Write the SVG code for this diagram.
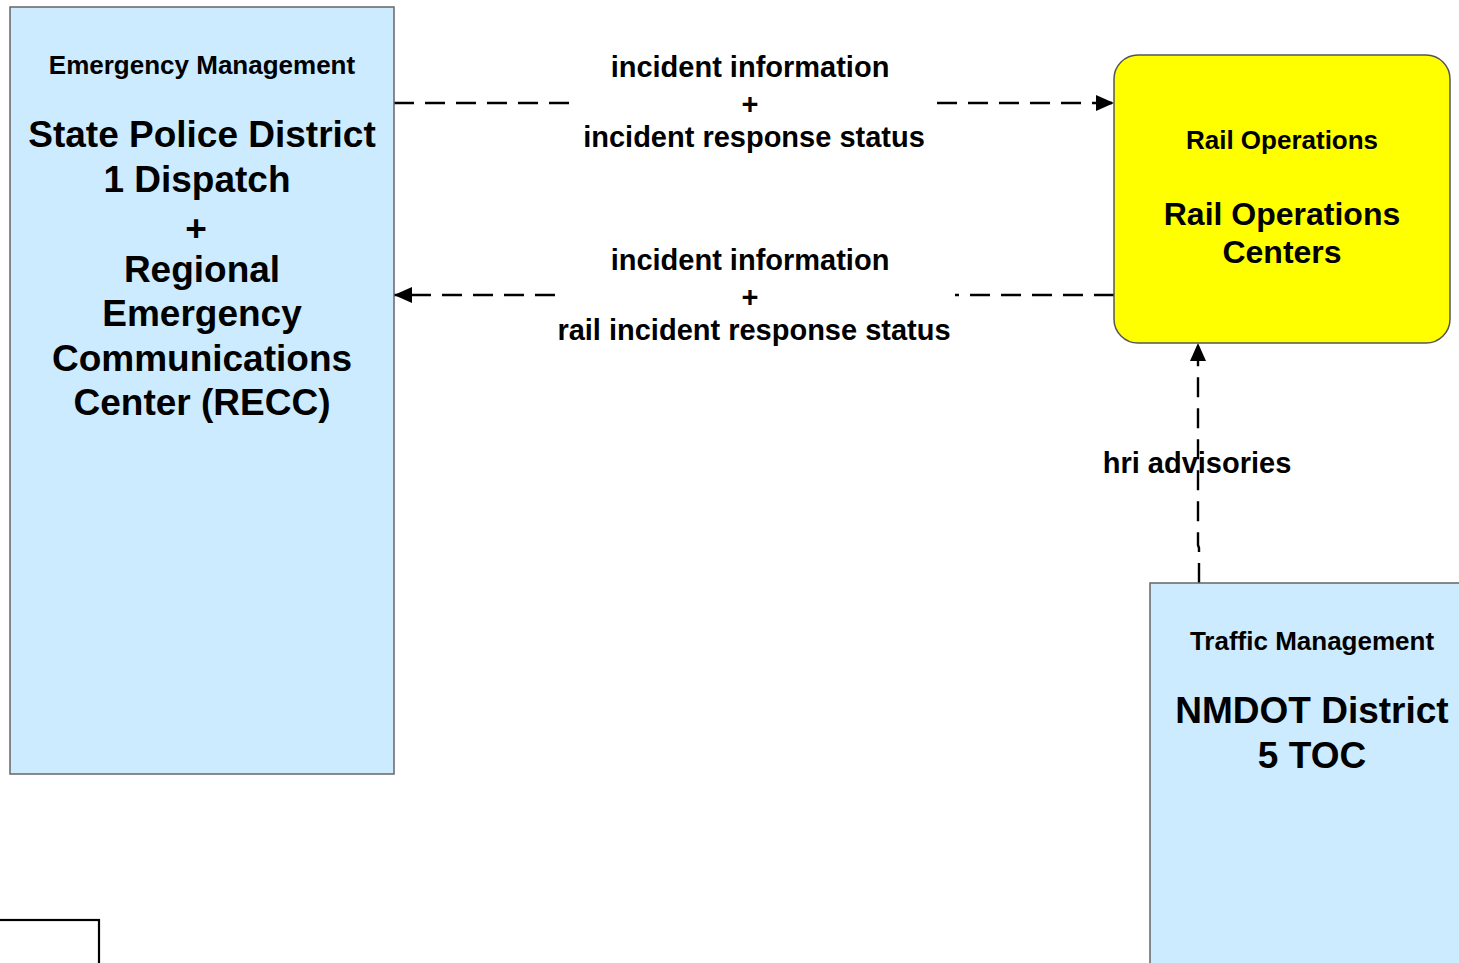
<svg xmlns="http://www.w3.org/2000/svg" width="1459" height="963" viewBox="0 0 1459 963">
<defs>
<style>
text{font-family:"Liberation Sans",Arial,sans-serif;font-weight:bold;fill:#000;text-anchor:middle}
.sub{font-size:26px}
.big{font-size:37px}
.mid{font-size:32px}
.lbl{font-size:29px}
.blue{fill:#CCEBFF;stroke:#666;stroke-width:1.5}
.conn{fill:none;stroke:#000;stroke-width:2.4;stroke-dasharray:20 11}
</style>
<marker id="arr" markerUnits="userSpaceOnUse" markerWidth="18" markerHeight="16" refX="18" refY="8" orient="auto">
<path d="M0,0 L18,8 L0,16 z" fill="#000"/>
</marker>
</defs>
<rect width="1459" height="963" fill="#fff"/>
<g id="connectors">
<path class="conn" d="M394,103 H575 M937,103 H1114" marker-end="url(#arr)"/>
<path class="conn" d="M1114,295 H955 M555,295 H394" marker-end="url(#arr)"/>
<path class="conn" d="M1199,583 V548 L1198,545 V343" marker-end="url(#arr)"/>
<g id="label1">
<text class="lbl" x="750" y="77">incident information</text>
<text class="lbl" x="750" y="114">+</text>
<text class="lbl" x="754" y="147">incident response status</text>
</g>
<g id="label2">
<text class="lbl" x="750" y="270">incident information</text>
<text class="lbl" x="750" y="307">+</text>
<text class="lbl" x="754" y="340">rail incident response status</text>
</g>
<g id="label3">
<text class="lbl" x="1197" y="473">hri advisories</text>
</g>
</g>
<g id="node-spd1">
<rect class="blue" x="10" y="7" width="384" height="767"/>
<text class="sub" x="202" y="74">Emergency Management</text>
<text class="big" x="202" y="147">State Police District</text>
<text class="big" x="197" y="192">1 Dispatch</text>
<text class="big" x="196" y="241">+</text>
<text class="big" x="202" y="282">Regional</text>
<text class="big" x="202" y="326">Emergency</text>
<text class="big" x="202" y="371">Communications</text>
<text class="big" x="202" y="415">Center (RECC)</text>
</g>
<g id="node-rail">
<rect x="1114" y="55" width="336" height="288" rx="24" ry="24" fill="#FFFF00" stroke="#555" stroke-width="1.5"/>
<text class="sub" x="1282" y="149">Rail Operations</text>
<text class="mid" x="1282" y="225">Rail Operations</text>
<text class="mid" x="1282" y="263">Centers</text>
</g>
<g id="node-nmdot">
<rect class="blue" x="1150" y="583" width="320" height="400"/>
<text class="sub" x="1312" y="650">Traffic Management</text>
<text class="big" x="1312" y="723">NMDOT District</text>
<text class="big" x="1312" y="768">5 TOC</text>
</g>
<g id="node-legend">
<rect x="-5" y="920" width="104" height="60" fill="#fff" stroke="#000" stroke-width="2.2"/>
</g>
</svg>
